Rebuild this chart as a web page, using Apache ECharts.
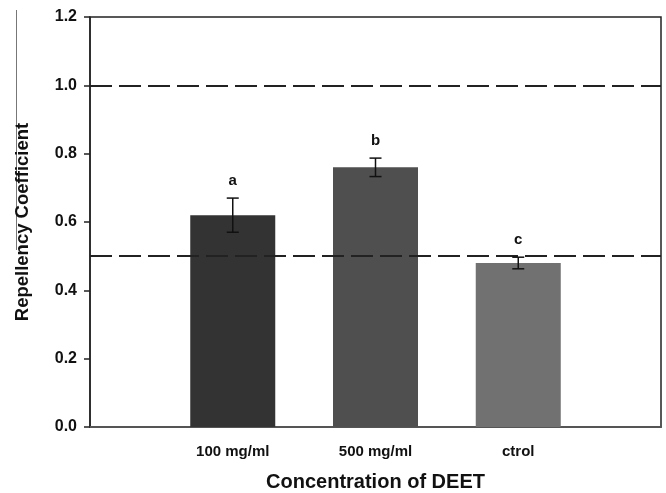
<!DOCTYPE html>
<html><head><meta charset="utf-8">
<script src="https://cdn.jsdelivr.net/npm/echarts@6/dist/echarts.min.js"></script>
<style>html,body{margin:0;padding:0;background:#fff}#c{width:666px;height:493px}</style>
</head><body><div id="c"></div>
<script>
var categories = ['', '100 mg/ml', '500 mg/ml', 'ctrol', ''];
var values = [0.62, 0.76, 0.48];
var errors = [0.05, 0.027, 0.017];
var letters = ['a', 'b', 'c'];
var barColors = ['#333333', '#4f4f4f', '#717171'];
var refLines = [1.0, 0.5];
var yTicks = [0, 0.2, 0.4, 0.6, 0.8, 1.0, 1.2];

var barData = values.map(function (v, i) {
  return { value: [i + 1, v], itemStyle: { color: barColors[i] } };
});
var errData = values.map(function (v, i) { return [i + 1, v - errors[i], v + errors[i], i]; });

var chart = echarts.init(document.getElementById('c'));
chart.setOption({
  animation: false,
  grid: { left: 90, right: 5, top: 17, bottom: 66, show: true, borderColor: '#222', borderWidth: 1.5, outerBoundsMode: 'none', containLabel: false },
  xAxis: {
    type: 'category', data: categories, boundaryGap: false,
    axisLine: { lineStyle: { color: '#555', width: 2 } },
    axisTick: { show: false },
    axisLabel: { color: '#111', fontWeight: 'bold', fontSize: 15, fontFamily: 'Liberation Sans, Arial', margin: 17 },
    name: 'Concentration of DEET', nameLocation: 'middle', nameGap: 45,
    nameTextStyle: { color: '#111', fontWeight: 'bold', fontSize: 20, fontFamily: 'Liberation Sans, Arial' },
    splitLine: { show: false }
  },
  yAxis: {
    type: 'value', min: 0, max: 1.2, interval: 0.2,
    axisLine: { show: true, lineStyle: { color: '#222', width: 1.5 } },
    axisTick: { show: true, inside: false, length: 6, lineStyle: { color: '#222', width: 1.5 } },
    axisLabel: { color: '#111', fontWeight: 'bold', fontSize: 16, fontFamily: 'Liberation Sans, Arial', margin: 13,
      formatter: function (v) { return v.toFixed(1); } },
    splitLine: { show: false },
    name: 'Repellency Coefficient', nameLocation: 'middle', nameGap: 58, nameRotate: 90,
    nameTextStyle: { color: '#111', fontWeight: 'bold', fontSize: 18.5, fontFamily: 'Liberation Sans, Arial' }
  },
  graphic: [{ type: 'line', shape: { x1: 16.5, y1: 10, x2: 16.5, y2: 250 }, style: { stroke: '#777', lineWidth: 1 } }],
  series: [
    {
      type: 'bar', data: barData, barWidth: 85,
      markLine: {
        silent: true, symbol: 'none', label: { show: false },
        lineStyle: { color: '#222', type: [22, 7], width: 2 },
        data: refLines.map(function (y) { return { yAxis: y }; })
      }
    },
    {
      type: 'custom', data: errData, z: 5,
      renderItem: function (params, api) {
        var x = api.value(0);
        var lo = api.coord([x, api.value(1)]);
        var hi = api.coord([x, api.value(2)]);
        var w = 6;
        var idx = api.value(3);
        return {
          type: 'group',
          children: [
            { type: 'line', shape: { x1: hi[0], y1: hi[1], x2: lo[0], y2: lo[1] }, style: { stroke: '#111', lineWidth: 1.5 } },
            { type: 'line', shape: { x1: hi[0] - w, y1: hi[1], x2: hi[0] + w, y2: hi[1] }, style: { stroke: '#111', lineWidth: 1.5 } },
            { type: 'line', shape: { x1: lo[0] - w, y1: lo[1], x2: lo[0] + w, y2: lo[1] }, style: { stroke: '#111', lineWidth: 1.5 } },
            { type: 'text', x: hi[0], y: hi[1] - 17, style: { text: letters[idx], fill: '#111', font: 'bold 15px Liberation Sans, Arial', align: 'center', verticalAlign: 'middle' } }
          ]
        };
      }
    }
  ]
});
</script></body></html>
